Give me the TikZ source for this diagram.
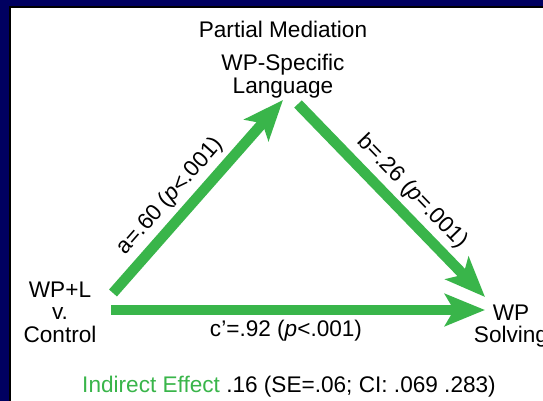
\documentclass[tikz,border=0pt]{standalone}
\usepackage{fontspec}
\setmainfont{Liberation Sans}
\usepackage{xcolor}
\usetikzlibrary{arrows.meta}
\definecolor{pathgreen}{RGB}{57,181,74}
\definecolor{slidenavy}{RGB}{0,0,96}

\begin{document}
\begin{tikzpicture}[x=1pt,y=1pt,
	txt/.style={font=\fontsize{22.6}{22.5}\selectfont,align=center,inner sep=0pt},
	path arrow/.style={draw=pathgreen,line width=10.5pt,-{Stealth[length=40pt,width=32pt,inset=9pt]}},
	coef/.style={txt,sloped,above=5pt}]
	\useasboundingbox (0,0) rectangle (543,401);
	% slide frame
	\fill[slidenavy] (0,0) rectangle (543,401);
	\fill[black] (9,0) rectangle (543,395);
	\fill[white] (11,0) rectangle (543,393);
	% variables
	\node[txt,anchor=base] (title) at (283,363) {Partial Mediation};
	\node[txt] (lang) at (283,325) {WP-Specific\\Language};
	\node[txt] (ctrl) at (60,89) {WP+L\\v.\\Control};
	\node[txt] (solve) at (511,75) {WP\\Solving};
	\coordinate (ctrl a) at (113,108);
	\coordinate (lang a) at (283,301);
	\coordinate (lang b) at (298,297);
	\coordinate (solve b) at (485,104);
	\coordinate (ctrl c) at (111,91);
	\coordinate (solve c) at (485,91);
	% paths
	\draw[path arrow] (ctrl a) -- node[coef,pos=0.43] (alab) {a=.60 (\textit{p}<.001)} (lang a);
	\draw[path arrow] (lang b) -- node[coef,pos=0.53] (blab) {b=.26 (\textit{p}=.001)} (solve b);
	\draw[path arrow] (ctrl c) -- (solve c);
	\node[txt,anchor=base] (clab) at (286,64) {c’=.92 (\textit{p}<.001)};
	\node[txt,anchor=base] (ind) at (289,8) {\textcolor{pathgreen}{Indirect Effect} .16 (SE=.06; CI: .069 .283)};
\end{tikzpicture}
\end{document}
